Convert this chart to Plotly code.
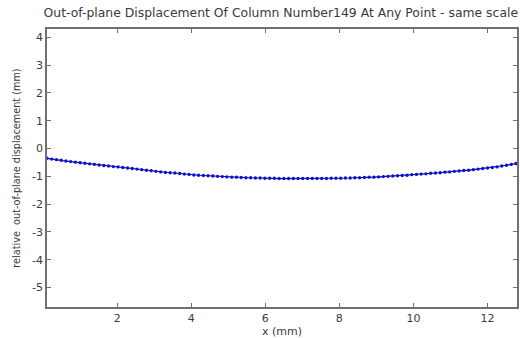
import plotly.graph_objects as go

# sampling positions along the column (mm)
x_start = 0.10
x_step = 0.128
n_points = 100
x_mm = [round(x_start + x_step * i, 3) for i in range(n_points)]

# relative out-of-plane displacement (mm)
disp_mm = [
    -0.35, -0.38, -0.40, -0.42, -0.45, -0.47, -0.49, -0.51, -0.53, -0.55,
    -0.57, -0.59, -0.61, -0.63, -0.65, -0.66, -0.68, -0.70, -0.72, -0.74,
    -0.76, -0.78, -0.80, -0.82, -0.84, -0.86, -0.87, -0.88, -0.90, -0.92,
    -0.93, -0.95, -0.96, -0.97, -0.98, -0.99, -1.00, -1.01, -1.02, -1.03,
    -1.03, -1.04, -1.05, -1.05, -1.06, -1.06, -1.07, -1.07, -1.07, -1.08,
    -1.08, -1.08, -1.08, -1.08, -1.08, -1.08, -1.08, -1.08, -1.08, -1.08,
    -1.07, -1.07, -1.07, -1.06, -1.06, -1.05, -1.05, -1.04, -1.03, -1.03,
    -1.02, -1.01, -1.00, -0.99, -0.98, -0.97, -0.96, -0.94, -0.93, -0.92,
    -0.91, -0.89, -0.88, -0.87, -0.85, -0.84, -0.82, -0.81, -0.79, -0.78,
    -0.76, -0.74, -0.72, -0.70, -0.68, -0.66, -0.63, -0.60, -0.57, -0.54,
]

x_ticks = [2, 4, 6, 8, 10, 12]
y_ticks = [-5, -4, -3, -2, -1, 0, 1, 2, 3, 4]
y_tick_text = ["-5", "-4", "-3", "-2", "-1", "0", "1", "2", "3", "4"]

font_family = "DejaVu Sans, Liberation Sans, sans-serif"
text_color = "#3a3a3a"
axis_color = "#707070"

fig = go.Figure()
fig.add_trace(go.Scatter(
    x=x_mm, y=disp_mm, mode="lines+markers",
    line=dict(color="#1010cc", width=1.2),
    marker=dict(color="#1010cc", size=3.4, symbol="circle"),
    showlegend=False,
))

fig.update_layout(
    width=520, height=338,
    margin=dict(l=47, r=3, t=29, b=31),
    paper_bgcolor="white", plot_bgcolor="white",
    font=dict(family=font_family, size=11, color=text_color),
    title=dict(
        text="Out-of-plane Displacement Of Column Number149 At Any Point - same scale",
        x=0.54, xanchor="center", y=0.962, yanchor="middle",
        font=dict(size=12.4, color=text_color),
    ),
)
fig.update_xaxes(
    range=[0.1, 12.8], tickvals=x_ticks, ticks="inside", ticklen=4,
    tickcolor=axis_color, showline=True, linecolor=axis_color, linewidth=1.5,
    mirror="ticks", showgrid=False, zeroline=False, automargin=False,
    tickfont=dict(size=11, color=text_color),
    title=dict(text="x (mm)", font=dict(size=11, color=text_color), standoff=0),
)
fig.update_yaxes(
    range=[-5.7, 4.3], tickvals=y_ticks, ticktext=y_tick_text,
    ticks="inside", ticklen=4,
    tickcolor=axis_color, showline=True, linecolor=axis_color, linewidth=1.5,
    mirror="ticks", showgrid=False, zeroline=False, automargin=False,
    tickfont=dict(size=11, color=text_color),
    title=dict(text="relative  out-of-plane displacement (mm)",
               font=dict(size=9.7, color=text_color), standoff=10),
)

fig.write_html("out.html", config={"displayModeBar": False},
               post_script="document.body.style.margin='0';")
